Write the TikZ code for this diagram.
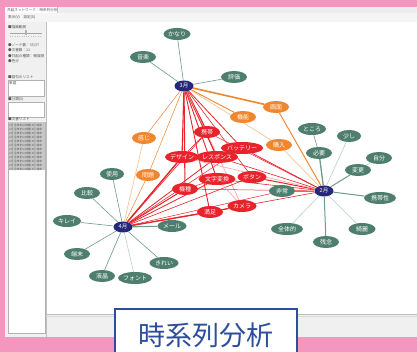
\documentclass[tikz,border=0pt]{standalone}
\usepackage{fontspec}
\setmainfont{Noto Sans CJK JP}
\usetikzlibrary{shapes.geometric}
\pgfdeclarelayer{bg}
\pgfdeclarelayer{edges}
\pgfsetlayers{bg,edges,main}
\definecolor{pinkbg}{HTML}{F396C0}
\definecolor{winbg}{HTML}{F0F0F0}
\definecolor{nodegreen}{HTML}{4E7E6D}
\definecolor{edgegreen}{HTML}{6F9C8A}
\definecolor{edgegreenlt}{HTML}{B7D2C8}
\definecolor{nodeorange}{HTML}{F0862E}
\definecolor{edgeorangelt}{HTML}{F8C49C}
\definecolor{nodered}{HTML}{E8232B}
\definecolor{edgeredlt}{HTML}{F3A3A6}
\definecolor{navy}{HTML}{25287A}
\definecolor{labelblue}{HTML}{2D4E9D}
\definecolor{uigray}{HTML}{555555}
\tikzset{
  base/.style={ellipse, inner sep=0pt, minimum height=12pt, text=white, font=\fontsize{6}{6}\selectfont},
  gn/.style={base, fill=nodegreen, minimum width=#1},
  gn/.default=26pt,
  on/.style={base, fill=nodeorange, minimum width=#1},
  on/.default=26pt,
  rn/.style={base, fill=nodered, minimum width=#1},
  rn/.default=26pt,
  mn/.style={ellipse, inner sep=0pt, fill=navy, text=white, minimum width=19pt, minimum height=11pt, font=\fontsize{5.5}{5.5}\selectfont},
  ge/.style={draw=edgegreen, line width=#1},
  ge/.default=0.6pt,
  gl/.style={draw=edgegreenlt, line width=0.6pt},
  oe/.style={draw=nodeorange, line width=#1},
  oe/.default=0.6pt,
  ol/.style={draw=edgeorangelt, line width=0.7pt},
  re/.style={draw=nodered, line width=#1},
  re/.default=0.7pt,
  rl/.style={draw=edgeredlt, line width=0.6pt},
  ui/.style={font=\fontsize{3.6}{4}\selectfont, text=uigray, inner sep=0pt, anchor=west},
}
\begin{document}
\begin{tikzpicture}[x=1pt,y=-1pt]
\useasboundingbox (0,0) rectangle (417,352);
\begin{pgfonlayer}{bg}
  % background and window
  \fill[pinkbg] (0,0) rectangle (417,352);
  \fill[winbg] (5,7) rectangle (417,337);
  \fill[black!7] (5,7) rectangle (417,13);
  \fill[white] (5,7) rectangle (57,13);
  \draw[black!25, line width=0.4pt] (57,7) -- (57,13) -- (417,13);
  \fill[black!4] (5,13) rectangle (417,22);
  \draw[black!40, line width=0.6pt] (46,22) -- (417,22);
  \fill[white] (46,22) rectangle (417,314);
  \draw[black!25, line width=0.6pt] (46,22) -- (46,337);
  \draw[black!25, line width=0.6pt] (46,314) -- (417,314);
  \draw[black!15, line width=0.4pt] (46,316) -- (417,316);
  % left panel
  \node[ui] (ttl) at (7,10) {共起ネットワーク：時系列分析};
  \node[ui] (menu) at (8,17.5) {表示(V)\quad 設定(S)};
  \node[ui] (rng) at (8,27) {■描画範囲};
  \draw[black!35, line width=0.4pt] (10,33) -- (42,33);
  \fill[black!30] (25,30.5) rectangle (27,35.5);
  \draw[black!25, line width=0.3pt, dotted] (10,36) -- (42,36);
  \node[ui] (nd) at (8,45) {●ノード数：35/37};
  \node[ui] (dc) at (8,50.5) {●文書数：11};
  \node[ui] (ty) at (8,56) {●共起の種類：頻度順};
  \node[ui] (cl) at (8,61.5) {●色分};
  \node[ui] (wl) at (8,77) {■語句のリスト};
  \draw[black!30, fill=white, line width=0.4pt] (8,80) rectangle (44,96);
  \node[ui] (wv) at (9,83) {単語};
  \node[ui] (cx) at (8,99) {■分類(X)};
  \draw[black!30, fill=white, line width=0.4pt] (8,102) rectangle (44,117);
  \node[ui] (dl) at (8,119.5) {■文書リスト};
  \draw[black!30, fill=white, line width=0.4pt] (8,122) rectangle (45,333);
  \fill[black!22] (8.5,122.5) rectangle (44.5,170);
  \foreach \yy in {125,129,...,169}
    \node[font=\fontsize{2.8}{3}\selectfont, text=black!65, inner sep=0pt, anchor=west] at (9,\yy) {2月 全体的に綺麗 4月 端末};
\end{pgfonlayer}

% nodes
\node[gn=27pt] (kanari) at (177,34) {かなり};
\node[gn] (ongaku) at (143,57) {音楽};
\node[gn] (hyoka) at (234,77) {評価};
\node[mn] (m3) at (184,86) {3月};
\node[on] (gamen) at (276,107) {画面};
\node[on] (kino) at (243,117) {機能};
\node[on=24pt] (kanji) at (144,138) {感じ};
\node[on] (konyu) at (279,145) {購入};
\node[on=24pt] (mondai) at (148,175) {問題};
\node[rn] (keitai) at (207,132) {携帯};
\node[rn=37pt] (battery) at (242,148) {バッテリー};
\node[rn=33pt] (design) at (182,157) {デザイン};
\node[rn=37pt] (response) at (217,157) {レスポンス};
\node[rn=37pt] (moji) at (217,179) {文字変換};
\node[rn=29pt] (button) at (252,177) {ボタン};
\node[rn] (kishu) at (185,189) {機種};
\node[rn=29pt] (camera) at (242,206) {カメラ};
\node[rn] (manzoku) at (210,212) {満足};
\node[gn] (hijo) at (282,191) {非常};
\node[gn=29pt] (mail) at (172,226) {メール};
\node[gn=28pt] (tokoro) at (312,129) {ところ};
\node[gn=24pt] (sukoshi) at (349,136) {少し};
\node[gn] (hitsuyo) at (319,153) {必要};
\node[gn] (jibun) at (379,158) {自分};
\node[gn] (henko) at (358,170) {変更};
\node[mn] (m2) at (324,191) {2月};
\node[gn=32pt] (keitaisei) at (380,198) {携帯性};
\node[gn=32pt] (zentai) at (287,229) {全体的};
\node[gn=27pt] (kirei) at (362,229) {綺麗};
\node[gn] (zannen) at (326,242) {残念};
\node[gn=24pt] (shiyo) at (112,174) {使用};
\node[gn] (hikaku) at (87,193) {比較};
\node[gn=28pt] (kireik) at (67,221) {キレイ};
\node[mn] (m4) at (123,227) {4月};
\node[gn] (tanmatsu) at (77,254) {端末};
\node[gn=29pt] (kireih) at (164,263) {きれい};
\node[gn] (ekisho) at (102,276) {液晶};
\node[gn=31pt] (font) at (135,278) {フォント};

\begin{pgfonlayer}{edges}
  % 3月
  \draw[ge] (m3) -- (kanari);
  \draw[ge] (m3) -- (ongaku);
  \draw[ge] (m3) -- (hyoka);
  \draw[oe=1.6pt] (m3) -- (gamen);
  \draw[oe=0.9pt] (m3) -- (kino);
  \draw[oe=0.5pt] (m3) -- (kanji);
  \draw[oe=0.5pt] (m3) -- (mondai);
  \draw[ol] (m3) -- (konyu);
  \draw[re=1.6pt] (m3) -- (keitai);
  \draw[re=1.1pt] (m3) -- (design);
  \draw[re=1.3pt] (m3) -- (response);
  \draw[re=0.8pt] (m3) -- (battery);
  \draw[re=0.9pt] (m3) -- (moji);
  \draw[re=1.1pt] (m3) -- (kishu);
  \draw[re=0.6pt] (m3) -- (button);
  \draw[re=0.9pt] (m3) -- (manzoku);
  \draw[rl] (m3) -- (camera);
  % 4月
  \draw[ge] (m4) -- (shiyo);
  \draw[ge] (m4) -- (hikaku);
  \draw[ge] (m4) -- (kireik);
  \draw[ge] (m4) -- (tanmatsu);
  \draw[ge] (m4) -- (ekisho);
  \draw[gl] (m4) -- (font);
  \draw[ge] (m4) -- (kireih);
  \draw[ge=1.1pt] (m4) -- (mail);
  \draw[oe=0.5pt] (m4) -- (mondai);
  \draw[ol] (m4) -- (kanji);
  \draw[re=1.4pt] (m4) -- (design);
  \draw[re=1.0pt] (m4) -- (kishu);
  \draw[re=0.8pt] (m4) -- (moji);
  \draw[re=0.8pt] (m4) -- (response);
  \draw[re=0.6pt] (m4) -- (button);
  \draw[re=0.6pt] (m4) -- (keitai);
  \draw[re=0.5pt] (m4) -- (battery);
  \draw[re=1.3pt] (m4) -- (manzoku);
  \draw[re=0.6pt] (m4) -- (camera);
  \draw[re=0.5pt] (m4) -- (hijo);
  % 2月
  \draw[ge=1.3pt] (m2) -- (hitsuyo);
  \draw[gl] (m2) -- (sukoshi);
  \draw[ge=1.0pt] (m2) -- (henko);
  \draw[ge=1.0pt] (m2) -- (keitaisei);
  \draw[gl] (m2) -- (kirei);
  \draw[ge=1.0pt] (m2) -- (zannen);
  \draw[gl] (m2) -- (zentai);
  \draw[ge=0.8pt] (m2) -- (hijo);
  \draw[ge] (tokoro) -- (hitsuyo);
  \draw[gl] (jibun) -- (henko);
  \draw[oe=1.0pt] (m2) -- (gamen);
  \draw[ol] (m2) -- (konyu);
  \draw[re=0.8pt] (m2) -- (battery);
  \draw[re=1.0pt] (m2) -- (button);
  \draw[re=0.6pt] (m2) -- (response);
  \draw[re=0.6pt] (m2) -- (moji);
  \draw[re=0.5pt] (m2) -- (keitai);
  \draw[re=0.5pt] (m2) -- (kishu);
  \draw[re=0.6pt] (m2) -- (camera);
  \draw[rl] (m2) -- (design);
  % between words
  \draw[re=0.6pt] (design) -- (keitai);
  \draw[re=1.2pt] (manzoku) -- (camera);
  \draw[rl] (moji) -- (camera);
  \draw[re=0.5pt] (kishu) -- (moji);
\end{pgfonlayer}

% label
\draw[labelblue, line width=1.4pt, fill=white] (115,353) -- (115,309) -- (297,309) -- (297,353);
\node[font=\fontsize{27}{27}\selectfont, text=labelblue, inner sep=0pt] (lbl) at (206,335.5) {時系列分析};
\end{tikzpicture}
\end{document}
